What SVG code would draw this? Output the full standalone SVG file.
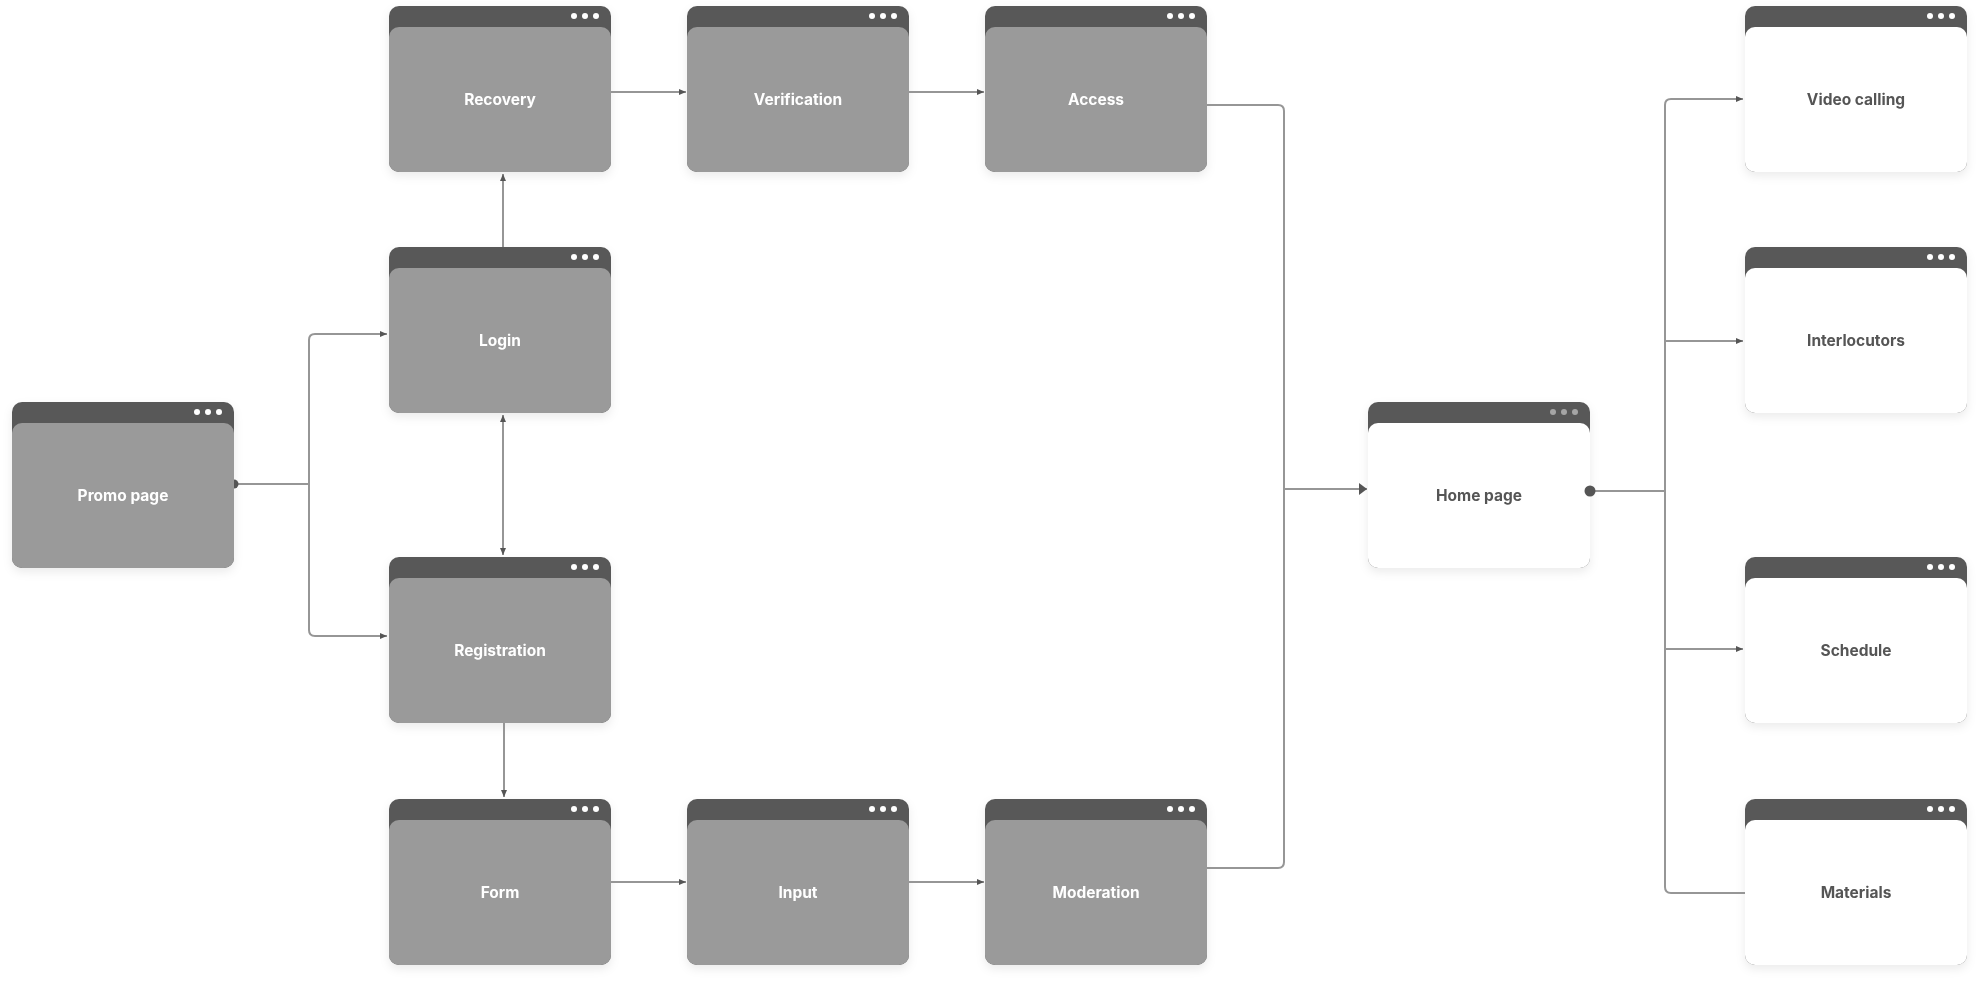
<svg xmlns="http://www.w3.org/2000/svg" width="1980" height="981" viewBox="0 0 1980 981">
<style>
.hdr{fill:#595959}
.bd{fill:#9a9a9a}
.bdw{fill:#ffffff}
.dot{fill:#ffffff}
.dotg{fill:#a6a6a6}
.lbl{font-family:Inter,"Liberation Sans",sans-serif;font-weight:700;font-size:15.5px;fill:#ffffff;text-anchor:middle;dominant-baseline:central}
.lbld{fill:#555555}
.ln{fill:none;stroke:#969696;stroke-width:2}
.node{filter:url(#sh)}
</style>
<defs>
<filter id="sh" x="-10%" y="-10%" width="120%" height="130%">
<feDropShadow dx="0" dy="4" stdDeviation="5" flood-color="#000" flood-opacity="0.08"/>
</filter>
<marker id="ar" markerUnits="userSpaceOnUse" markerWidth="8" markerHeight="8" refX="7" refY="4" orient="auto-start-reverse" viewBox="0 0 8 8">
<path d="M0,1 L7,4 L0,7 Z" fill="#555555"/>
</marker>
<marker id="arb" markerUnits="userSpaceOnUse" markerWidth="10" markerHeight="14" refX="8" refY="7" orient="auto" viewBox="0 0 10 14">
<path d="M0,1 L8,7 L0,13 Z" fill="#555555"/>
</marker>
</defs>
<rect width="1980" height="981" fill="#ffffff"/>

<g id="promo" class="node" transform="translate(12,402)">
<rect class="hdr" width="222" height="166" rx="10"/><rect class="bd" y="21" width="222" height="145" rx="10"/>
<circle class="dot" cx="185" cy="10" r="3"/><circle class="dot" cx="196" cy="10" r="3"/><circle class="dot" cx="207" cy="10" r="3"/>
<text class="lbl" x="111" y="93">Promo page</text>
</g>
<g id="recovery" class="node" transform="translate(389,6)">
<rect class="hdr" width="222" height="166" rx="10"/><rect class="bd" y="21" width="222" height="145" rx="10"/>
<circle class="dot" cx="185" cy="10" r="3"/><circle class="dot" cx="196" cy="10" r="3"/><circle class="dot" cx="207" cy="10" r="3"/>
<text class="lbl" x="111" y="93">Recovery</text>
</g>
<g id="verification" class="node" transform="translate(687,6)">
<rect class="hdr" width="222" height="166" rx="10"/><rect class="bd" y="21" width="222" height="145" rx="10"/>
<circle class="dot" cx="185" cy="10" r="3"/><circle class="dot" cx="196" cy="10" r="3"/><circle class="dot" cx="207" cy="10" r="3"/>
<text class="lbl" x="111" y="93">Verification</text>
</g>
<g id="access" class="node" transform="translate(985,6)">
<rect class="hdr" width="222" height="166" rx="10"/><rect class="bd" y="21" width="222" height="145" rx="10"/>
<circle class="dot" cx="185" cy="10" r="3"/><circle class="dot" cx="196" cy="10" r="3"/><circle class="dot" cx="207" cy="10" r="3"/>
<text class="lbl" x="111" y="93">Access</text>
</g>
<g id="login" class="node" transform="translate(389,247)">
<rect class="hdr" width="222" height="166" rx="10"/><rect class="bd" y="21" width="222" height="145" rx="10"/>
<circle class="dot" cx="185" cy="10" r="3"/><circle class="dot" cx="196" cy="10" r="3"/><circle class="dot" cx="207" cy="10" r="3"/>
<text class="lbl" x="111" y="93">Login</text>
</g>
<g id="registration" class="node" transform="translate(389,557)">
<rect class="hdr" width="222" height="166" rx="10"/><rect class="bd" y="21" width="222" height="145" rx="10"/>
<circle class="dot" cx="185" cy="10" r="3"/><circle class="dot" cx="196" cy="10" r="3"/><circle class="dot" cx="207" cy="10" r="3"/>
<text class="lbl" x="111" y="93">Registration</text>
</g>
<g id="form" class="node" transform="translate(389,799)">
<rect class="hdr" width="222" height="166" rx="10"/><rect class="bd" y="21" width="222" height="145" rx="10"/>
<circle class="dot" cx="185" cy="10" r="3"/><circle class="dot" cx="196" cy="10" r="3"/><circle class="dot" cx="207" cy="10" r="3"/>
<text class="lbl" x="111" y="93">Form</text>
</g>
<g id="input" class="node" transform="translate(687,799)">
<rect class="hdr" width="222" height="166" rx="10"/><rect class="bd" y="21" width="222" height="145" rx="10"/>
<circle class="dot" cx="185" cy="10" r="3"/><circle class="dot" cx="196" cy="10" r="3"/><circle class="dot" cx="207" cy="10" r="3"/>
<text class="lbl" x="111" y="93">Input</text>
</g>
<g id="moderation" class="node" transform="translate(985,799)">
<rect class="hdr" width="222" height="166" rx="10"/><rect class="bd" y="21" width="222" height="145" rx="10"/>
<circle class="dot" cx="185" cy="10" r="3"/><circle class="dot" cx="196" cy="10" r="3"/><circle class="dot" cx="207" cy="10" r="3"/>
<text class="lbl" x="111" y="93">Moderation</text>
</g>
<g id="home" class="node" transform="translate(1368,402)">
<rect class="hdr" width="222" height="166" rx="10"/><rect class="bdw" y="21" width="222" height="145" rx="10"/>
<circle class="dotg" cx="185" cy="10" r="3"/><circle class="dotg" cx="196" cy="10" r="3"/><circle class="dotg" cx="207" cy="10" r="3"/>
<text class="lbl lbld" x="111" y="93">Home page</text>
</g>
<g id="video" class="node" transform="translate(1745,6)">
<rect class="hdr" width="222" height="166" rx="10"/><rect class="bdw" y="21" width="222" height="145" rx="10"/>
<circle class="dot" cx="185" cy="10" r="3"/><circle class="dot" cx="196" cy="10" r="3"/><circle class="dot" cx="207" cy="10" r="3"/>
<text class="lbl lbld" x="111" y="93">Video calling</text>
</g>
<g id="interlocutors" class="node" transform="translate(1745,247)">
<rect class="hdr" width="222" height="166" rx="10"/><rect class="bdw" y="21" width="222" height="145" rx="10"/>
<circle class="dot" cx="185" cy="10" r="3"/><circle class="dot" cx="196" cy="10" r="3"/><circle class="dot" cx="207" cy="10" r="3"/>
<text class="lbl lbld" x="111" y="93">Interlocutors</text>
</g>
<g id="schedule" class="node" transform="translate(1745,557)">
<rect class="hdr" width="222" height="166" rx="10"/><rect class="bdw" y="21" width="222" height="145" rx="10"/>
<circle class="dot" cx="185" cy="10" r="3"/><circle class="dot" cx="196" cy="10" r="3"/><circle class="dot" cx="207" cy="10" r="3"/>
<text class="lbl lbld" x="111" y="93">Schedule</text>
</g>
<g id="materials" class="node" transform="translate(1745,799)">
<rect class="hdr" width="222" height="166" rx="10"/><rect class="bdw" y="21" width="222" height="145" rx="10"/>
<circle class="dot" cx="185" cy="10" r="3"/><circle class="dot" cx="196" cy="10" r="3"/><circle class="dot" cx="207" cy="10" r="3"/>
<text class="lbl lbld" x="111" y="93">Materials</text>
</g>

<g id="connectors">
<path class="ln" d="M236,484 H309"/>
<path d="M234,479.5 A4.5,4.5 0 0 1 234,488.5 Z" fill="#555555"/>
<path class="ln" d="M387,334 H315 Q309,334 309,340 V630 Q309,636 315,636 H387" marker-start="url(#ar)" marker-end="url(#ar)"/>
<path class="ln" d="M503,247 V174" marker-end="url(#ar)"/>
<path class="ln" d="M503,415 V555" marker-start="url(#ar)" marker-end="url(#ar)"/>
<path class="ln" d="M504,723 V797" marker-end="url(#ar)"/>
<path class="ln" d="M611,92 H686" marker-end="url(#ar)"/>
<path class="ln" d="M909,92 H984" marker-end="url(#ar)"/>
<path class="ln" d="M611,882 H686" marker-end="url(#ar)"/>
<path class="ln" d="M909,882 H984" marker-end="url(#ar)"/>
<path class="ln" d="M1207,105 H1278 Q1284,105 1284,111 V862 Q1284,868 1278,868 H1207"/>
<path class="ln" d="M1284,489 H1367" marker-end="url(#arb)"/>
<path class="ln" d="M1590,491 H1665"/>
<circle cx="1590" cy="491" r="5.5" fill="#555555"/>
<path class="ln" d="M1743,99 H1671 Q1665,99 1665,105 V887 Q1665,893 1671,893 H1745" marker-start="url(#ar)"/>
<path class="ln" d="M1665,341 H1743" marker-end="url(#ar)"/>
<path class="ln" d="M1665,649 H1743" marker-end="url(#ar)"/>
</g>
</svg>
